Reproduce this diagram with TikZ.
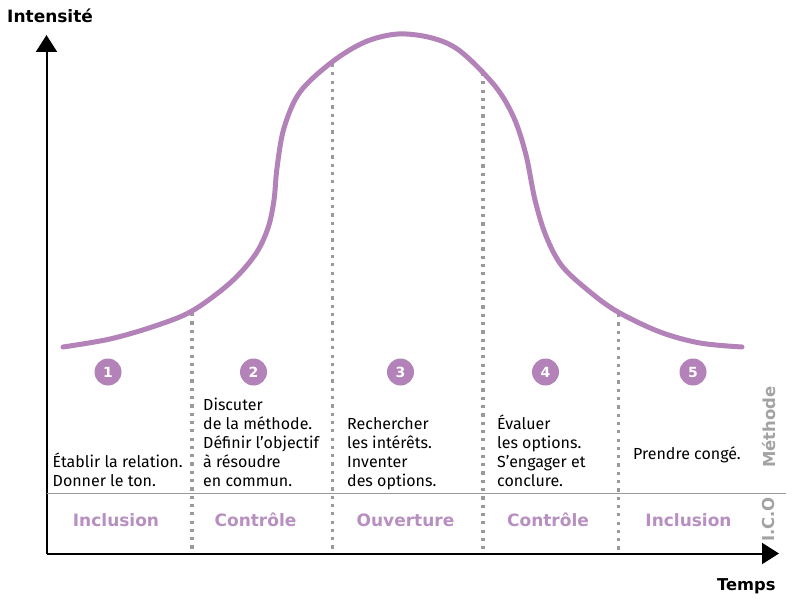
\documentclass[tikz,border=0pt]{standalone}
\usepackage{fontspec}
\setmainfont{Fira Sans}
\newfontfamily\dvsans{DejaVu Sans}
\usetikzlibrary{arrows.meta}
\definecolor{curvepurple}{HTML}{B282B9}
\definecolor{labelpurple}{HTML}{B78FC0}
\definecolor{guidegray}{HTML}{9A9A9A}
\definecolor{sidegray}{HTML}{A3A3A3}
\begin{document}
\begin{tikzpicture}[x=1pt,y=-1pt,
  axis/.style={line width=2pt,-{Triangle[length=17pt,width=21pt]}},
  guide/.style={guidegray,line width=3.2pt,dash pattern=on 3.2pt off 5.1pt},
  sepline/.style={guidegray,line width=1.4pt},
  numcirc/.style={circle,fill=curvepurple,minimum size=27pt,inner sep=0pt,text=white,font=\dvsans\fontsize{14}{14}\selectfont\bfseries},
  body/.style={anchor=base west,inner sep=0pt,font=\fontsize{16}{19}\selectfont},
  ico/.style={anchor=base,text=labelpurple,inner sep=0pt,font=\dvsans\fontsize{17}{17}\selectfont\bfseries},
  side/.style={anchor=base,text=sidegray,rotate=90,inner sep=0pt,font=\dvsans\fontsize{16.5}{16.5}\selectfont\bfseries},
  axlabel/.style={anchor=base west,inner sep=0pt,font=\dvsans\fontsize{17}{17}\selectfont\bfseries}]
\useasboundingbox (0,0) rectangle (800,599);

% axes
\coordinate (O) at (46.5,553.5);
\coordinate (ytip) at (46.5,35);
\coordinate (xtip) at (779,553.5);
\draw[axis] (O) -- (ytip);
\draw[axis] (O) -- (xtip);
\node[axlabel] (ylab) at (7,22.7) {Intensité};
\node[axlabel,font=\dvsans\fontsize{16.3}{16.3}\selectfont\bfseries] (xlab) at (717,590) {Temps};

% separator line
\coordinate (sepL) at (46.5,493.5);
\coordinate (sepR) at (786,493.5);
\draw[sepline] (sepL) -- (sepR);

% dotted guides
\coordinate (g1t) at (192,313); \coordinate (g1b) at (192,552);
\coordinate (g2t) at (332.5,64); \coordinate (g2b) at (332.5,552);
\coordinate (g3t) at (483,73); \coordinate (g3b) at (483,552);
\coordinate (g4t) at (618.5,314); \coordinate (g4b) at (618.5,552);
\draw[guide] (g1t) -- (g1b);
\draw[guide] (g2t) -- (g2b);
\draw[guide] (g3t) -- (g3b);
\draw[guide] (g4t) -- (g4b);

% curve
\draw[curvepurple,line width=5pt,line cap=round] plot[smooth,tension=0.55] coordinates {
(63,347) (110,339) (155,326) (192,311) (230,283) (255,255) (268,228) (274,200) (277,168)
(284,128) (300,92) (332,62) (365,42) (398,34) (432,38) (460,51) (495,86) (514,118)
(526,155) (535,200) (546,236) (562,266) (590,292) (618,312) (660,332) (700,343) (742,347)};

% numbers
\node[numcirc] (n1) at (108,372) {1};
\node[numcirc] (n2) at (253.5,372) {2};
\node[numcirc] (n3) at (400.5,372) {3};
\node[numcirc] (n4) at (545.5,372) {4};
\node[numcirc] (n5) at (693,372) {5};

% column texts
\node[body] (t1a) at (52.5,467) {Établir la relation.};
\node[body] (t1b) at (52.5,486) {Donner le ton.};

\node[body] (t2a) at (203,410) {Discuter};
\node[body] (t2b) at (203,429) {de la méthode.};
\node[body] (t2c) at (203,448) {Définir l’objectif};
\node[body] (t2d) at (203,467) {à résoudre};
\node[body] (t2e) at (203,486) {en commun.};

\node[body] (t3a) at (347,429) {Rechercher};
\node[body] (t3b) at (347,448) {les intérêts.};
\node[body] (t3c) at (347,467) {Inventer};
\node[body] (t3d) at (347,486) {des options.};

\node[body] (t4a) at (497,429) {Évaluer};
\node[body] (t4b) at (497,448) {les options.};
\node[body] (t4c) at (497,467) {S’engager et};
\node[body] (t4d) at (497,486) {conclure.};

\node[body] (t5a) at (633,459) {Prendre congé.};

% ICO labels
\node[ico] (i1) at (116,526.7) {Inclusion};
\node[ico] (i2) at (255.5,526.7) {Contrôle};
\node[ico] (i3) at (405.5,526.7) {Ouverture};
\node[ico] (i4) at (548,526.7) {Contrôle};
\node[ico] (i5) at (688.5,526.7) {Inclusion};

% side labels
\node[side] (s1) at (775,427) {Méthode};
\node[side] (s2) at (774.5,519.5) {I.C.O};
\end{tikzpicture}
\end{document}
